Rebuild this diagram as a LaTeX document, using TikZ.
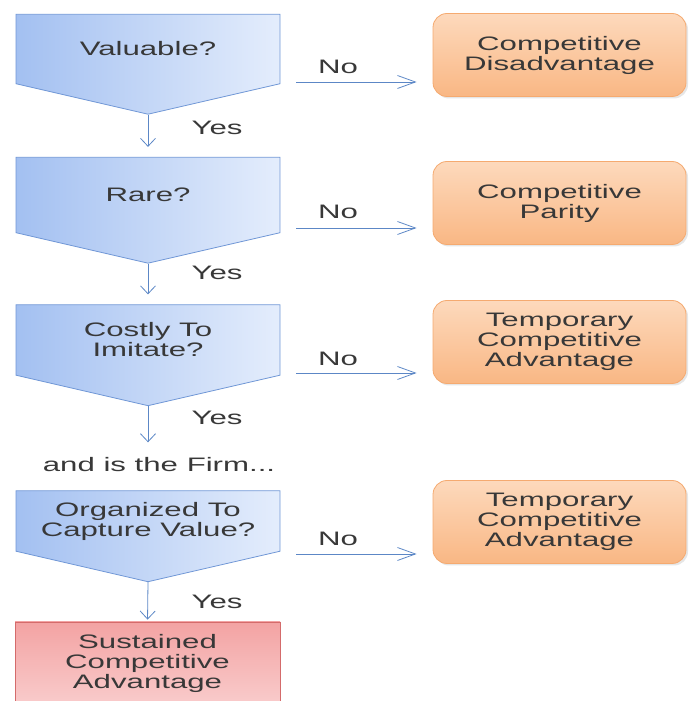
\documentclass[tikz,border=0pt]{standalone}
\usepackage{fontspec}
\setmainfont{Liberation Sans}
\newfontfamily\widesans[FakeStretch=1.6]{Liberation Sans}
\usetikzlibrary{shapes.symbols,arrows.meta,shadows}

\definecolor{qleft}{HTML}{A3C0F1}
\definecolor{qright}{HTML}{E4EDFC}
\definecolor{qborder}{HTML}{7097D6}
\definecolor{otop}{HTML}{FDD9BC}
\definecolor{obottom}{HTML}{F9B784}
\definecolor{oborder}{HTML}{F5AA70}
\definecolor{rtop}{HTML}{F3A3A3}
\definecolor{rbottom}{HTML}{F9CBCB}
\definecolor{rborder}{HTML}{D46B6B}
\definecolor{link}{HTML}{5C87C6}
\definecolor{ink}{HTML}{383838}

\tikzset{
    lbl/.style={text=ink, font=\widesans\fontsize{19.5}{20}\selectfont, align=center},
    question/.style={lbl, signal, signal to=south, signal pointer angle=154,
        minimum width=264pt, minimum height=86pt, draw=qborder, line width=0.8pt,
        left color=qleft, right color=qright},
    outcome/.style={lbl, rectangle, rounded corners=14pt, minimum width=253pt,
        minimum height=83pt, draw=oborder, line width=0.8pt, top color=otop,
        bottom color=obottom, drop shadow={opacity=0.2, shadow xshift=2pt, shadow yshift=-2pt}},
    goal/.style={lbl, rectangle, minimum width=265pt, minimum height=82pt,
        draw=rborder, line width=0.8pt, top color=rtop, bottom color=rbottom},
    yesarrow/.style={draw=link, line width=0.8pt, -{Straight Barb[length=8pt,width=15pt]}},
    noarrow/.style={draw=link, line width=0.8pt, -{Straight Barb[length=18pt,width=13pt]},
        shorten <=16pt, shorten >=16pt}
}

\begin{document}
\begin{tikzpicture}[x=1pt, y=1pt]
    \useasboundingbox (0,0) rectangle (689,701);
    \clip (0,0) rectangle (689,701);

    \node[question] (v1) at (148,652) {Valuable?};
    \node[question] (v2) at (148,506) {Rare?};
    \node[question] (v3) at (148,361) {Costly To\\Imitate?};
    \node[question] (v4) at (148,180) {Organized To\\Capture Value?};
    \node[lbl] (firm) at (159,236) {and is the Firm...};
    \node[goal] (sca) at (147.5,38) {Sustained\\Competitive\\Advantage};

    \node[outcome] (o1) at (559.5,646) {Competitive\\Disadvantage};
    \node[outcome] (o2) at (559.5,498) {Competitive\\Parity};
    \node[outcome] (o3) at (559.5,359) {Temporary\\Competitive\\Advantage};
    \node[outcome] (o4) at (559.5,179) {Temporary\\Competitive\\Advantage};

    \draw[yesarrow, shorten >=10pt] (v1.south) -- (v2.north);
    \draw[yesarrow, shorten >=10pt] (v2.south) -- (v3.north);
    \draw[yesarrow, shorten >=12pt] (v3.south) -- (v3.south |- firm.north);
    \draw[yesarrow, shorten >=2pt] (v4.south) -- (sca.north);
    \node[lbl] (yes1) at (217,573) {Yes};
    \node[lbl] (yes2) at (217,428) {Yes};
    \node[lbl] (yes3) at (217,283) {Yes};
    \node[lbl] (yes4) at (217,99) {Yes};

    \coordinate (n1) at ([yshift=-33pt]v1.east);
    \coordinate (n2) at ([yshift=-33pt]v2.east);
    \coordinate (n3) at ([yshift=-33pt]v3.east);
    \coordinate (n4) at ([yshift=-33pt]v4.east);
    \draw[noarrow] (n1) -- (n1 -| o1.west);
    \draw[noarrow] (n2) -- (n2 -| o2.west);
    \draw[noarrow] (n3) -- (n3 -| o3.west);
    \draw[noarrow] (n4) -- (n4 -| o4.west);
    \node[lbl] (no1) at (338,634) {No};
    \node[lbl] (no2) at (338,489) {No};
    \node[lbl] (no3) at (338,342) {No};
    \node[lbl] (no4) at (338,162) {No};
\end{tikzpicture}
\end{document}
